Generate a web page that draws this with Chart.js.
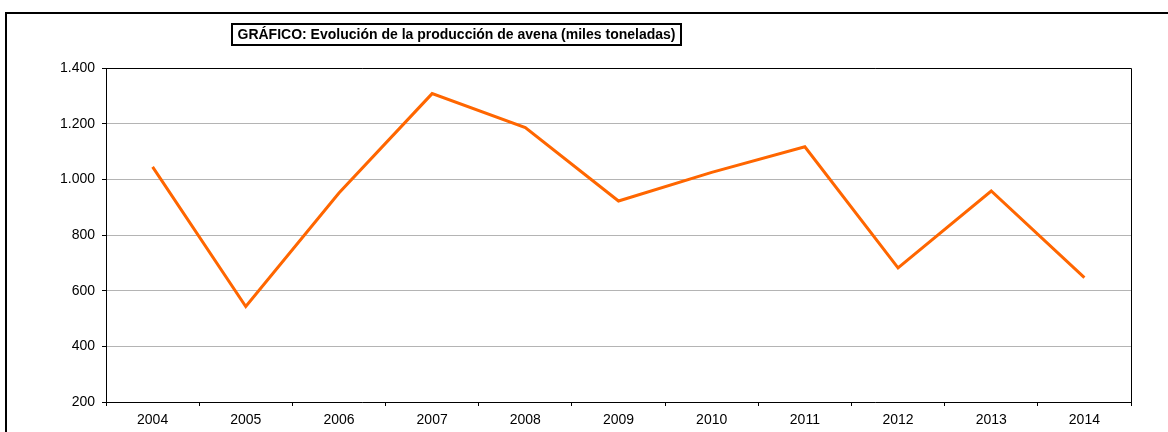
<!DOCTYPE html>
<html>
<head>
<meta charset="utf-8">
<script src="https://cdn.jsdelivr.net/npm/chart.js@4/dist/chart.umd.min.js"></script>
<style>
  html, body { margin: 0; padding: 0; background: #fff; }
  #wrap { width: 1168px; height: 432px; }
</style>
</head>
<body>
<div id="wrap"><canvas id="grafico" width="1168" height="432"></canvas></div>
<script>
const anos = ['2004', '2005', '2006', '2007', '2008', '2009', '2010', '2011', '2012', '2013', '2014'];
const produccion = [1045, 543, 951, 1308, 1186, 922, 1025, 1117, 682, 958, 647];
const yMin = 200;
const yMax = 1400;
const yPaso = 200;
const titulo = 'GRÁFICO: Evolución de la producción de avena (miles toneladas)';

// miles con punto, como en el original
function formatoMiles(v) {
  return String(v).replace(/\B(?=(\d{3})+(?!\d))/g, '.');
}

const fuente = '"Liberation Sans", Arial, sans-serif';

const marcoPlugin = {
  id: 'marco',
  beforeDraw(chart) {
    const ctx = chart.ctx;
    ctx.save();
    ctx.fillStyle = '#fff';
    ctx.fillRect(0, 0, chart.width, chart.height);
    // marco exterior (se corta por la derecha y abajo)
    ctx.strokeStyle = '#000';
    ctx.lineWidth = 2;
    ctx.beginPath();
    ctx.moveTo(6, chart.height + 5);
    ctx.lineTo(6, 13);
    ctx.lineTo(chart.width + 5, 13);
    ctx.stroke();
    ctx.restore();
  },
  beforeDatasetsDraw(chart) {
    const a = chart.chartArea;
    const ctx = chart.ctx;
    ctx.save();
    ctx.strokeStyle = '#000';
    ctx.lineWidth = 1;
    ctx.beginPath();
    ctx.moveTo(Math.round(a.left) + 0.5, Math.round(a.top) + 0.5);
    ctx.lineTo(Math.round(a.right) + 0.5, Math.round(a.top) + 0.5);
    ctx.lineTo(Math.round(a.right) + 0.5, Math.round(a.bottom) + 0.5);
    ctx.stroke();
    ctx.restore();
  },
  afterDraw(chart) {
    const ctx = chart.ctx;
    ctx.save();
    ctx.font = 'bold 14px ' + fuente;
    ctx.textBaseline = 'middle';
    ctx.textAlign = 'left';
    const w = ctx.measureText(titulo).width;
    const boxW = 449, boxH = 21;
    const x0 = 232, y0 = 24;
    ctx.fillStyle = '#fff';
    ctx.fillRect(x0, y0, boxW, boxH);
    ctx.strokeStyle = '#000';
    ctx.lineWidth = 2;
    ctx.strokeRect(x0, y0, boxW, boxH);
    ctx.fillStyle = '#000';
    ctx.fillText(titulo, x0 + (boxW - w) / 2, y0 + boxH / 2 + 1);
    ctx.restore();
  }
};

new Chart(document.getElementById('grafico'), {
  type: 'line',
  data: {
    labels: anos,
    datasets: [{
      data: produccion,
      borderColor: '#FF6600',
      borderWidth: 3,
      pointRadius: 0,
      tension: 0,
      fill: false
    }]
  },
  options: {
    responsive: false,
    animation: false,
    events: [],
    layout: {
      padding: { left: 0, top: 68, right: 37, bottom: 0 }
    },
    plugins: {
      legend: { display: false },
      title: { display: false },
      tooltip: { enabled: false }
    },
    scales: {
      x: {
        type: 'category',
        offset: true,
        grid: {
          offset: true,
          drawOnChartArea: false,
          tickLength: 4,
          tickColor: '#000'
        },
        border: { color: '#000', width: 1 },
        ticks: {
          color: '#000',
          padding: 6,
          maxRotation: 0,
          font: { family: fuente, size: 14 }
        },
        afterFit(scale) { scale.height = 30; }
      },
      y: {
        min: yMin,
        max: yMax,
        grid: {
          color: '#b4b4b4',
          tickColor: '#000',
          tickLength: 4
        },
        border: { color: '#000', width: 1 },
        ticks: {
          stepSize: yPaso,
          color: '#000',
          padding: 7,
          font: { family: fuente, size: 14 },
          callback: (v) => formatoMiles(v)
        },
        afterFit(scale) { scale.width = 106; }
      }
    }
  },
  plugins: [marcoPlugin]
});
</script>
</body>
</html>
